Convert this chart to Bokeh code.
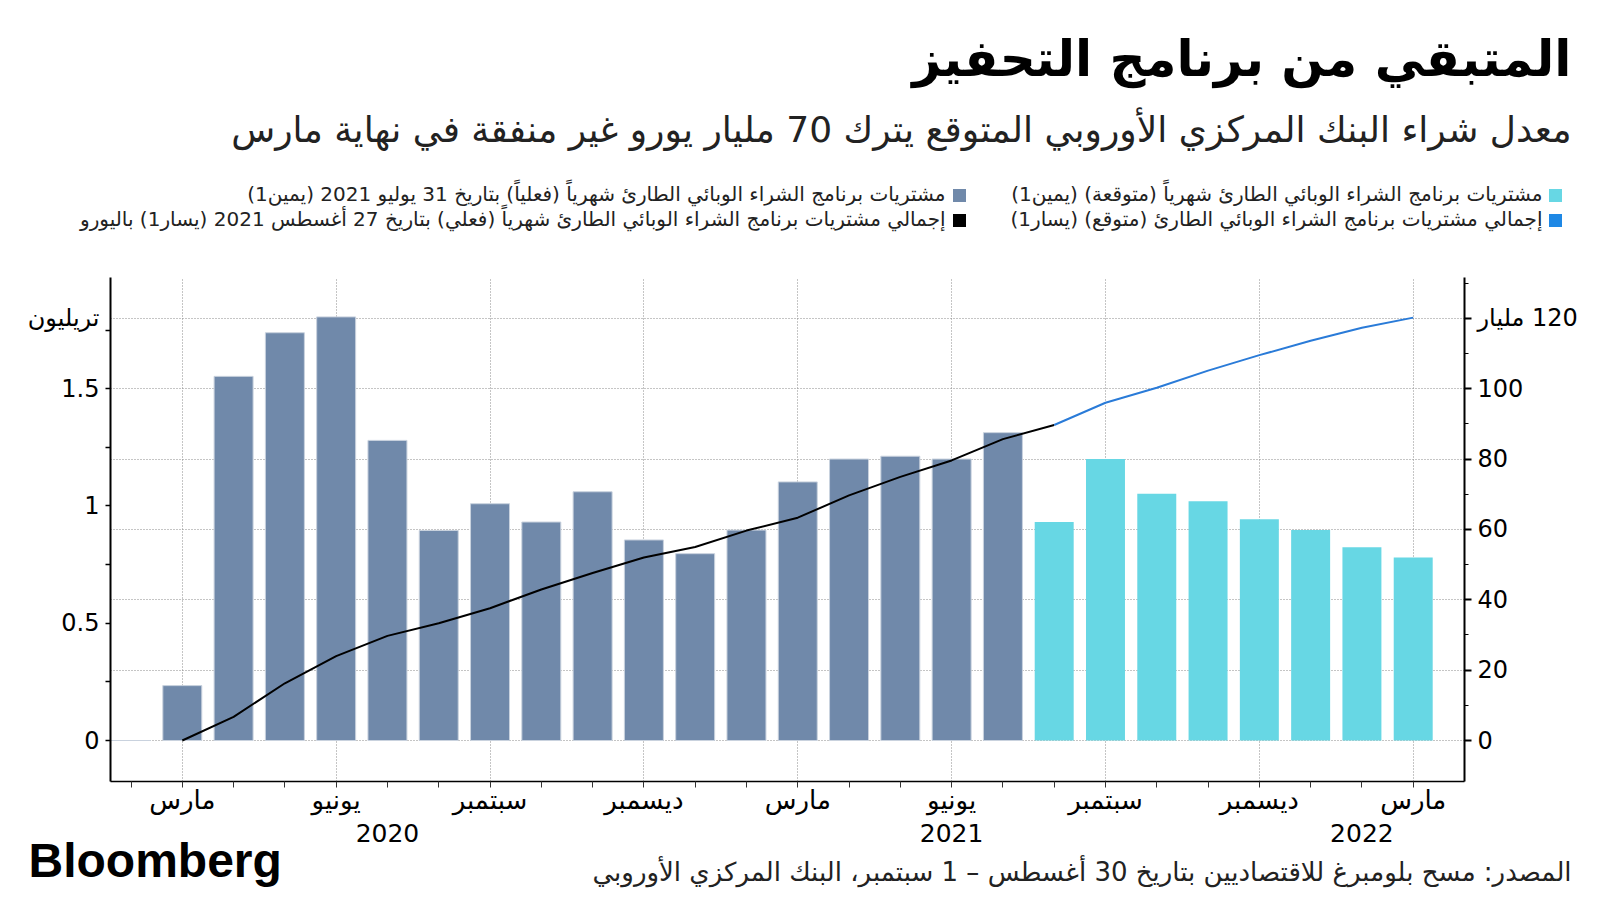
from bokeh.plotting import figure
from bokeh.layouts import column
from bokeh.models import Range1d, LinearAxis, FixedTicker, CustomJSTickFormatter
from bokeh.core.properties import value
from bokeh.embed import file_html
from bokeh.resources import INLINE

# ---------------- data ----------------
MONTHS = ["2020-02", "2020-03", "2020-04", "2020-05", "2020-06", "2020-07",
          "2020-08", "2020-09", "2020-10", "2020-11", "2020-12", "2021-01",
          "2021-02", "2021-03", "2021-04", "2021-05", "2021-06", "2021-07",
          "2021-08", "2021-09", "2021-10", "2021-11", "2021-12", "2022-01",
          "2022-02", "2022-03"]

# monthly PEPP purchases, billions EUR (right axis)
ACTUAL_MONTHS = MONTHS[0:18]
ACTUAL_BN = [0, 15.6, 103.5, 115.9, 120.4, 85.3, 59.7, 67.3, 62.1, 70.7,
             57.0, 53.1, 59.8, 73.5, 80.0, 80.8, 80.0, 87.5]
FORECAST_MONTHS = MONTHS[18:26]
FORECAST_BN = [62.1, 80.0, 70.1, 68.0, 62.9, 59.8, 54.9, 52.0]

# cumulative PEPP purchases, trillions EUR (left axis)
ACTUAL_CUM_MONTHS = MONTHS[1:19]
ACTUAL_CUM_TN = [0.0, 0.101, 0.244, 0.36, 0.446, 0.50, 0.564, 0.644, 0.714,
                 0.78, 0.825, 0.895, 0.95, 1.045, 1.124, 1.194, 1.285, 1.345]
FORECAST_CUM_MONTHS = MONTHS[18:26]
FORECAST_CUM_TN = [1.345, 1.44, 1.504, 1.577, 1.643, 1.704, 1.76, 1.803]

MONTH_NAMES_AR = {"03": "مارس", "06": "يونيو", "09": "سبتمبر", "12": "ديسمبر"}
YEAR_LABELS = ["2020", "2021", "2022"]
YEAR_LABEL_MONTHS = ["2020-07", "2021-06", "2022-02"]

LEFT_TICKS = [0, 0.5, 1, 1.5]
LEFT_MINOR = [0, 0.25, 0.5, 0.75, 1, 1.25, 1.5, 1.75]
LEFT_UNIT_POS = 1.8
LEFT_UNIT = "تريليون"
RIGHT_TICKS = [0, 20, 40, 60, 80, 100, 120]
RIGHT_MINOR = [10, 30, 50, 70, 90, 110, 130]
RIGHT_UNIT = "مليار"
RATIO = 100 / 1.5  # billions on the right per trillion on the left

RLM = "\u200f"
def rtl(s):
    return RLM + s + RLM

TITLE = "المتبقي من برنامج التحفيز"
SUBTITLE = "معدل شراء البنك المركزي الأوروبي المتوقع يترك 70 مليار يورو غير منفقة في نهاية مارس"
LEG_FC_BARS = "مشتريات برنامج الشراء الوبائي الطارئ شهرياً (متوقعة) (يمين1)"
LEG_FC_LINE = "إجمالي مشتريات برنامج الشراء الوبائي الطارئ (متوقع) (يسار1)"
LEG_AC_BARS = "مشتريات برنامج الشراء الوبائي الطارئ شهرياً (فعلياً) بتاريخ 31 يوليو 2021 (يمين1)"
LEG_AC_LINE = "إجمالي مشتريات برنامج الشراء الوبائي الطارئ شهرياً (فعلي) بتاريخ 27 أغسطس 2021 (يسار1) باليورو"
SOURCE = "المصدر: مسح بلومبرغ للاقتصاديين بتاريخ 30 أغسطس – 1 سبتمبر، البنك المركزي الأوروبي"
LOGO = "Bloomberg"

C_ACTUAL = "#7089aa"
C_FC = "#67d7e4"
C_FC_LINE = "#2a7bd8"
C_LEG_BLUE = "#1e88e5"
AR_FONT = "DejaVu Sans"

# ---------------- layout (canvas pixels) ----------------
W = 1596
HEAD_H, CHART_TOP, CHART_BOT, FOOT_BOT = 250, 250, 817, 896
FRAME_L, FRAME_R, FRAME_T, FRAME_B = 110, 1464, 277, 781
X_START, X_END = -0.4, 26.0
Y_START, Y_END = -0.1748, 1.974

def sx(px):
    return X_START + (px - FRAME_L) * (X_END - X_START) / (FRAME_R - FRAME_L)


def blank(h, xr, yr):
    f = figure(width=W, height=h, output_backend="svg", toolbar_location=None,
               x_range=xr, y_range=yr, x_axis_type=None, y_axis_type=None,
               min_border=0, outline_line_color=None,
               background_fill_color="white", border_fill_color="white")
    f.grid.visible = False
    f.frame_align = False
    return f


def put_text(f, xs, ys, texts, size, color="black", align="right",
             bold=False, font=AR_FONT):
    f.text(x=xs, y=ys, text=texts, text_align=align, text_baseline="middle",
           text_font=value(font), text_font_size=value(f"{size}px"),
           text_font_style="bold" if bold else "normal", text_color=color)


# ---------------- header ----------------
head = blank(HEAD_H, Range1d(0, W), Range1d(HEAD_H, 0))
put_text(head, [1571], [58], [rtl(TITLE)], 50, bold=True)
put_text(head, [1571], [129], [rtl(SUBTITLE)], 36, color="#222222")
head.scatter(x=[1555, 1555, 959, 959], y=[195, 220, 195, 220],
             marker="square", size=13, line_color=None,
             fill_color=[C_FC, C_LEG_BLUE, C_ACTUAL, "black"])
put_text(head, [1542, 1542, 945, 945], [193, 218, 193, 218],
         [rtl(LEG_FC_BARS), rtl(LEG_FC_LINE), rtl(LEG_AC_BARS), rtl(LEG_AC_LINE)],
         20, color="#222222")

# ---------------- chart ----------------
p = figure(width=W, height=CHART_BOT - CHART_TOP, output_backend="svg",
           toolbar_location=None,
           x_range=Range1d(X_START, X_END), y_range=Range1d(Y_START, Y_END),
           min_border_left=FRAME_L, min_border_right=W - FRAME_R,
           min_border_top=FRAME_T - CHART_TOP, min_border_bottom=CHART_BOT - FRAME_B,
           outline_line_color=None, background_fill_color="white",
           border_fill_color="white")
p.frame_align = False
p.extra_y_ranges = {"right": Range1d(Y_START * RATIO, Y_END * RATIO)}

idx = {m: i for i, m in enumerate(MONTHS)}

p.vbar(x=[idx[m] for m in ACTUAL_MONTHS], top=ACTUAL_BN, bottom=0, width=0.76,
       y_range_name="right", fill_color=C_ACTUAL, line_color="#c9d2de",
       line_width=1)
p.vbar(x=[idx[m] for m in FORECAST_MONTHS], top=FORECAST_BN, bottom=0,
       width=0.76, y_range_name="right", fill_color=C_FC, line_color=None)

p.line(x=[idx[m] for m in ACTUAL_CUM_MONTHS], y=ACTUAL_CUM_TN, color="black",
       line_width=2)
p.line(x=[idx[m] for m in FORECAST_CUM_MONTHS], y=FORECAST_CUM_TN,
       color=C_FC_LINE, line_width=2)

quarter_idx = [i for i, m in enumerate(MONTHS) if m[5:] in MONTH_NAMES_AR]
p.xgrid.ticker = FixedTicker(ticks=quarter_idx)
p.ygrid.ticker = FixedTicker(ticks=[v / RATIO for v in RIGHT_TICKS])
for g in (p.xgrid, p.ygrid):
    g.grid_line_color = "#8a8a8a"
    g.grid_line_dash = "1 2"
    g.grid_line_width = 1

# x axis (months)
tick_text = [MONTH_NAMES_AR.get(m[5:], "") for m in MONTHS]
xa = p.xaxis[0]
xa.ticker = FixedTicker(ticks=list(range(len(MONTHS))), minor_ticks=[])
xa.formatter = CustomJSTickFormatter(args=dict(labels=tick_text), code="""
    const i = Math.round(tick);
    return (i >= 0 && i < labels.length) ? labels[i] : "";
""")
xa.axis_line_color = "black"
xa.axis_line_width = 1.5
xa.major_tick_out = 6
xa.major_tick_in = 0
xa.major_tick_line_color = "#333333"
xa.major_label_text_font = AR_FONT
xa.major_label_text_font_size = "26px"
xa.major_label_text_color = "black"
xa.major_label_standoff = -3

# left axis (trillions) - labels on major ticks, marks drawn as minor ticks
la = p.yaxis[0]
la.ticker = FixedTicker(ticks=LEFT_TICKS + [LEFT_UNIT_POS], minor_ticks=LEFT_MINOR)
la.formatter = CustomJSTickFormatter(args=dict(unit_pos=LEFT_UNIT_POS, unit=LEFT_UNIT), code="""
    if (Math.abs(tick - unit_pos) < 1e-6) return unit;
    return String(Math.round(tick * 10) / 10);
""")
la.axis_line_color = "black"
la.axis_line_width = 2
la.major_tick_out = 6
la.major_tick_in = 0
la.major_tick_line_color = None
la.minor_tick_out = 5
la.minor_tick_in = 0
la.minor_tick_line_width = 1.5
la.minor_tick_line_color = "black"
la.major_label_text_font = AR_FONT
la.major_label_text_font_size = "24px"
la.major_label_text_color = "black"
la.major_label_standoff = 5

# right axis (billions)
ra = LinearAxis(y_range_name="right",
                ticker=FixedTicker(ticks=RIGHT_TICKS, minor_ticks=RIGHT_MINOR),
                formatter=CustomJSTickFormatter(
                    args=dict(top=RIGHT_TICKS[-1], unit=RIGHT_UNIT), code="""
    return tick == top ? "\\u200f" + tick.toFixed(0) + " " + unit : tick.toFixed(0);
"""))
ra.axis_line_color = "black"
ra.axis_line_width = 2
ra.major_tick_out = 7
ra.major_tick_in = 0
ra.major_tick_line_width = 2
ra.minor_tick_out = 4
ra.minor_tick_in = 0
ra.major_label_text_font = AR_FONT
ra.major_label_text_font_size = "24px"
ra.major_label_text_color = "black"
ra.major_label_standoff = 6
p.add_layout(ra, "right")

# ---------------- footer ----------------
foot = blank(FOOT_BOT - CHART_BOT, Range1d(sx(0), sx(W)), Range1d(FOOT_BOT, CHART_BOT))
put_text(foot, [idx[m] for m in YEAR_LABEL_MONTHS], [832] * len(YEAR_LABELS),
         YEAR_LABELS, 25, align="center")
put_text(foot, [sx(28)], [860], [LOGO], 48, align="left", bold=True,
         font="Liberation Sans")
put_text(foot, [sx(1571)], [871], [rtl(SOURCE)], 26, color="#222222")

layout = column(head, p, foot, spacing=0)
html = file_html(layout, INLINE, title="PEPP")
with open("out.html", "w", encoding="utf-8") as f:
    f.write(html)
